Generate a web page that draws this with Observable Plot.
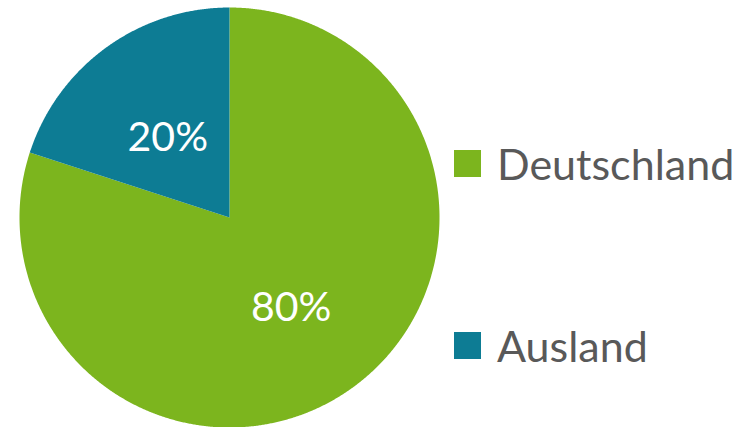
<!DOCTYPE html>
<html>
<head>
<meta charset="utf-8">
<script src="https://cdn.jsdelivr.net/npm/d3@7"></script>
<script src="https://cdn.jsdelivr.net/npm/@observablehq/plot@0.6"></script>
<style>
  html, body { margin: 0; padding: 0; background: #fff; }
  #wrap { position: relative; width: 750px; height: 427px; overflow: hidden; }
  .leg { position: absolute; left: 454px; display: flex; align-items: center; font-family: Lato, "Open Sans", sans-serif; font-size: 43px; color: #595959; line-height: 1; }
  .sw { width: 27px; height: 27px; margin-right: 16px; }
</style>
</head>
<body>
<div id="wrap"></div>
<script>
const categories = ["Deutschland", "Ausland"];
const shares = [80, 20];
const colors = ["#7cb51e", "#0d7c94"];

const pie = d3.pie().sort(null).value(d => d.value)(categories.map((name, i) => ({name, value: shares[i]})));

const outline = [];
for (const s of pie) {
  outline.push({name: s.data.name, x: 0, y: 0});
  const n = Math.max(2, Math.ceil((s.endAngle - s.startAngle) / 0.005));
  for (let k = 0; k <= n; k++) {
    const a = s.startAngle + (s.endAngle - s.startAngle) * k / n;
    outline.push({name: s.data.name, x: Math.sin(a), y: Math.cos(a)});
  }
}
const labels = pie.map(s => {
  const a = (s.startAngle + s.endAngle) / 2;
  return {name: s.data.name, label: s.data.value + "%", x: 0.5 * Math.sin(a), y: 0.5 * Math.cos(a)};
});

const chart = Plot.plot({
  width: 750,
  height: 427,
  margin: 0,
  x: {domain: [-1, 1], range: [19, 439], axis: null},
  y: {domain: [-1, 1], range: [427, 7], axis: null},
  color: {domain: categories, range: colors},
  marks: [
    Plot.line(outline, {x: "x", y: "y", z: "name", fill: "name", stroke: "none", curve: "linear-closed"}),
    Plot.text(labels, {x: "x", y: "y", dy: 5, text: "label", fill: "white", fontSize: 41, fontFamily: "Lato, 'Open Sans', sans-serif"})
  ]
});
const wrap = document.getElementById("wrap");
wrap.appendChild(chart);

const tops = [142, 324];
categories.forEach((c, i) => {
  const d = document.createElement("div");
  d.className = "leg";
  d.style.top = tops[i] + "px";
  d.innerHTML = `<div class="sw" style="background:${colors[i]}"></div><span>${c}</span>`;
  wrap.appendChild(d);
});
</script>
</body>
</html>
